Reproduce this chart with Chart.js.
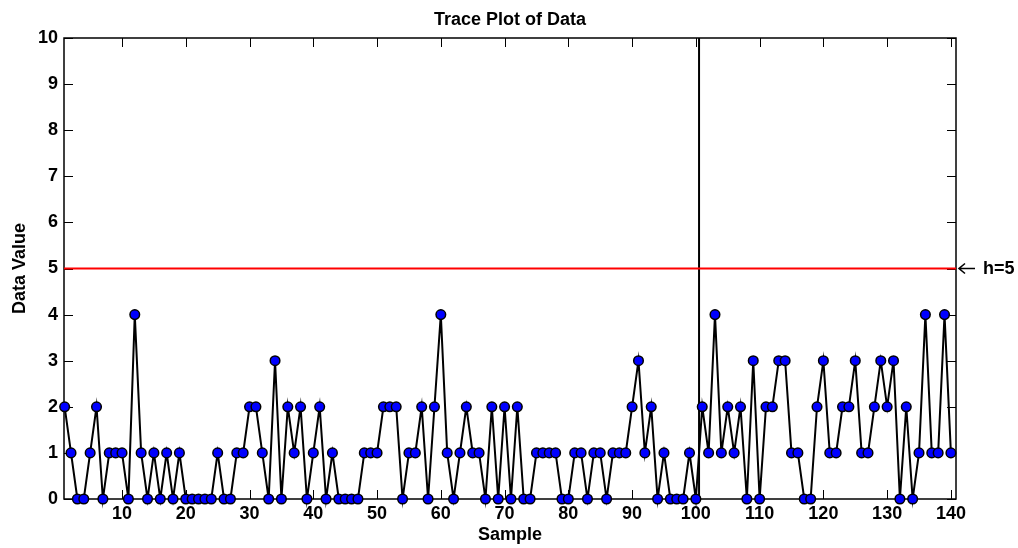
<!DOCTYPE html>
<html>
<head>
<meta charset="utf-8">
<script src="https://cdn.jsdelivr.net/npm/chart.js@4"></script>
<style>
  body { margin: 0; background: #fff; }
  canvas { display: block; }
</style>
</head>
<body>
<canvas id="trace" width="1018" height="548"></canvas>
<script>
// observed values, one per sample (1..140)
const traceValues = [
  2, 1, 0, 0, 1, 2, 0, 1, 1, 1,
  0, 4, 1, 0, 1, 0, 1, 0, 1, 0,
  0, 0, 0, 0, 1, 0, 0, 1, 1, 2,
  2, 1, 0, 3, 0, 2, 1, 2, 0, 1,
  2, 0, 1, 0, 0, 0, 0, 1, 1, 1,
  2, 2, 2, 0, 1, 1, 2, 0, 2, 4,
  1, 0, 1, 2, 1, 1, 0, 2, 0, 2,
  0, 2, 0, 0, 1, 1, 1, 1, 0, 0,
  1, 1, 0, 1, 1, 0, 1, 1, 1, 2,
  3, 1, 2, 0, 1, 0, 0, 0, 1, 0,
  2, 1, 4, 1, 2, 1, 2, 0, 3, 0,
  2, 2, 3, 3, 1, 1, 0, 0, 2, 3,
  1, 1, 2, 2, 3, 1, 1, 2, 3, 2,
  3, 0, 2, 0, 1, 4, 1, 1, 4, 1,
];
const xTicks = [10, 20, 30, 40, 50, 60, 70, 80, 90, 100, 110, 120, 130, 140];
const yTicks = [0, 1, 2, 3, 4, 5, 6, 7, 8, 9, 10];
const threshold = 5;      // h
const changePoint = 100.5; // vertical marker
const xRange = [0.9, 140.8];
const yRange = [0, 10];

const FONT = "'Liberation Sans', Arial, sans-serif";

const tracePoints = traceValues.map((v, i) => ({ x: i + 1, y: v }));

// frame, inward ticks, title and the h=5 note
const framePlugin = {
  id: 'frame',
  beforeDatasetsDraw(chart) {
    const { ctx, chartArea: a, scales } = chart;
    ctx.save();
    ctx.strokeStyle = '#000';
    ctx.lineWidth = 1.5;
    ctx.strokeRect(a.left, a.top, a.right - a.left, a.bottom - a.top);
    ctx.lineWidth = 1;
    ctx.beginPath();
    xTicks.forEach((t) => {
      const px = Math.round(scales.x.getPixelForValue(t)) + 0.5;
      ctx.moveTo(px, a.bottom);
      ctx.lineTo(px, a.bottom - 9);
      ctx.moveTo(px, a.top);
      ctx.lineTo(px, a.top + 9);
    });
    yTicks.forEach((t) => {
      const py = Math.round(scales.y.getPixelForValue(t)) + 0.5;
      ctx.moveTo(a.left, py);
      ctx.lineTo(a.left + 9, py);
      ctx.moveTo(a.right, py);
      ctx.lineTo(a.right - 9, py);
    });
    ctx.stroke();
    ctx.restore();
  },
  afterDraw(chart) {
    const { ctx, chartArea: a, scales } = chart;
    const hy = scales.y.getPixelForValue(threshold);
    ctx.save();
    ctx.fillStyle = '#000';
    ctx.font = 'bold 18px ' + FONT;
    ctx.textAlign = 'center';
    ctx.textBaseline = 'middle';
    ctx.fillText('Trace Plot of Data', (a.left + a.right) / 2, 20);
    ctx.textAlign = 'left';
    ctx.fillText('h=5', a.right + 27, hy + 1);
    // arrow pointing back at the line
    ctx.strokeStyle = '#000';
    ctx.lineWidth = 1.6;
    ctx.beginPath();
    ctx.moveTo(a.right + 3, hy);
    ctx.lineTo(a.right + 19, hy);
    ctx.moveTo(a.right + 9, hy - 5);
    ctx.lineTo(a.right + 3, hy);
    ctx.lineTo(a.right + 9, hy + 5);
    ctx.stroke();
    ctx.restore();
  },
};

new Chart(document.getElementById('trace'), {
  type: 'line',
  data: {
    datasets: [
      {
        label: 'data',
        data: tracePoints,
        borderColor: '#000',
        borderWidth: 2,
        pointRadius: 4.8,
        pointBorderWidth: 1.5,
        pointBackgroundColor: '#0000ff',
        pointBorderColor: '#000',
        tension: 0,
        clip: false,
        order: 0,
      },
      {
        label: 'h',
        data: [{ x: xRange[0], y: threshold }, { x: xRange[1], y: threshold }],
        borderColor: '#ff0000',
        borderWidth: 2,
        pointRadius: 0,
        clip: false,
        order: 1,
      },
      {
        label: 'change',
        data: [{ x: changePoint, y: yRange[0] }, { x: changePoint, y: yRange[1] }],
        borderColor: '#000',
        borderWidth: 2,
        pointRadius: 0,
        clip: false,
        order: 1,
      },
    ],
  },
  options: {
    responsive: false,
    animation: false,
    layout: { padding: { top: 38, right: 62, left: 0, bottom: 0 } },
    plugins: {
      legend: { display: false },
      tooltip: { enabled: false },
    },
    scales: {
      x: {
        type: 'linear',
        min: xRange[0],
        max: xRange[1],
        afterBuildTicks: (scale) => {
          scale.ticks = xTicks.map((v) => ({ value: v }));
        },
        afterFit: (scale) => { scale.height = 49; },
        grid: { display: false, drawTicks: false },
        border: { display: false },
        ticks: {
          color: '#000',
          padding: 4,
          maxRotation: 0,
          autoSkip: false,
          font: { family: FONT, size: 18, weight: 'bold' },
        },
        title: {
          display: true,
          text: 'Sample',
          color: '#000',
          padding: { top: 0, bottom: 2 },
          font: { family: FONT, size: 18, weight: 'bold' },
        },
      },
      y: {
        min: yRange[0],
        max: yRange[1],
        afterBuildTicks: (scale) => {
          scale.ticks = yTicks.map((v) => ({ value: v }));
        },
        afterFit: (scale) => { scale.width = 64; },
        grid: { display: false, drawTicks: false },
        border: { display: false },
        ticks: {
          color: '#000',
          padding: 6,
          font: { family: FONT, size: 18, weight: 'bold' },
        },
        title: {
          display: true,
          text: 'Data Value',
          color: '#000',
          padding: { top: 9, bottom: 0 },
          font: { family: FONT, size: 18, weight: 'bold' },
        },
      },
    },
  },
  plugins: [framePlugin],
});
</script>
</body>
</html>
